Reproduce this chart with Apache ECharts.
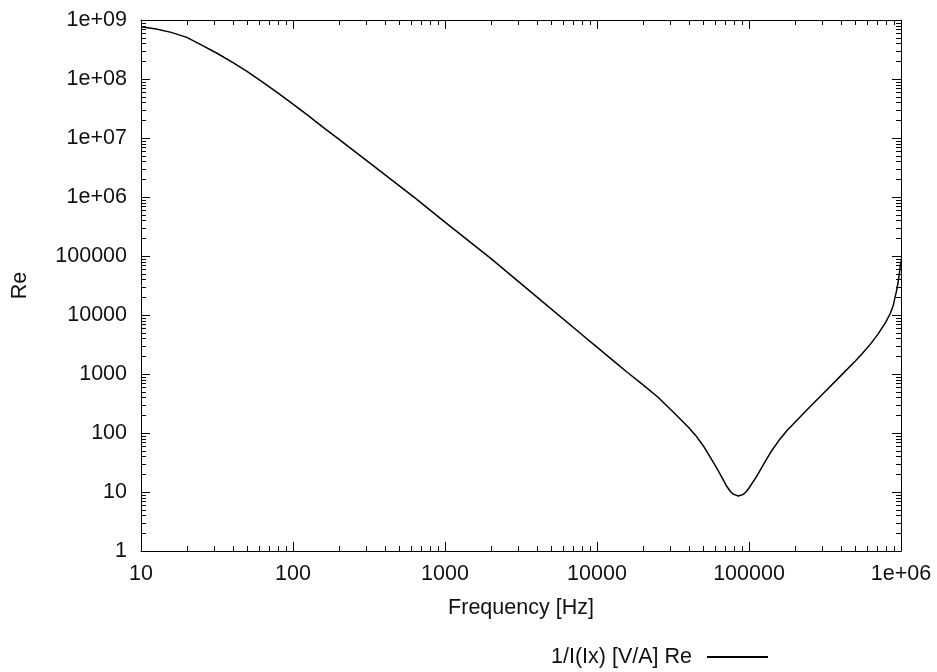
<!DOCTYPE html>
<html>
<head>
<meta charset="utf-8">
<script src="https://cdn.jsdelivr.net/npm/echarts@6/dist/echarts.min.js"></script>
<style>
html,body{margin:0;padding:0;background:#fff;}
#chart{width:937px;height:672px;}
</style>
</head>
<body>
<div id="chart"></div>
<script>
// Frequency [Hz]
var freq = [10, 12.6, 15.8, 20, 25.1, 31.6, 39.8, 50.1, 63.1, 79.4, 100, 126, 158, 200, 316, 631, 1000, 2000,
  3980, 7940, 10000, 12600, 15800, 20000, 25100, 31600, 39800, 44700, 50100, 56200, 63100, 70800, 75900,
  79400, 85100, 91200, 95500, 100000, 112000, 126000, 141000, 158000, 178000, 200000, 251000, 316000,
  398000, 501000, 562000, 631000, 708000, 794000, 851000, 891000, 912000, 933000, 955000, 977000, 1000000];
// Re of 1/I(Ix) [V/A]
var reVals = [7.69e8, 7.05e8, 6.17e8, 5.07e8, 3.76e8, 2.73e8, 1.93e8, 1.33e8, 8.87e7, 5.82e7, 3.76e7, 2.40e7,
  1.51e7, 9.55e6, 3.85e6, 9.77e5, 3.76e5, 9.12e4, 2.07e4, 4680, 2850, 1740, 1070, 661, 407, 229, 126, 90.2,
  60.3, 37.2, 22.4, 12.9, 10, 9.12, 8.55, 9.02, 10, 11.7, 18.2, 30.9, 50.1, 75.9, 110, 151, 275, 501, 912,
  1660, 2290, 3240, 4790, 7590, 10700, 14800, 19500, 25100, 34700, 52500, 83200];
var seriesName = '1/I(Ix) [V/A] Re';
var xName = 'Frequency [Hz]';
var yName = 'Re';
var xDecades = [1, 2, 3, 4, 5];      // minor ticks within these decades
var yDecades = [0, 1, 2, 3, 4, 5, 6, 7, 8];

var FONT = 'Liberation Sans, Arial, sans-serif';
var FS = 21.5;
function fmt(v) {
  var e = Math.round(Math.log10(v));
  if (e >= 6) return '1e+' + (e < 10 ? '0' : '') + e;
  return String(Math.round(v));
}
var axisLine = {show: true, lineStyle: {color: '#000', width: 1}};
var tickMajor = {show: true, inside: true, length: 9, lineStyle: {color: '#000', width: 1}};

var chart = echarts.init(document.getElementById('chart'), null, {renderer: 'canvas'});
var data = freq.map(function (f, i) { return [f, reVals[i]]; });

chart.setOption({
  animation: false,
  backgroundColor: '#fff',
  grid: {left: 141, top: 20, right: 36, bottom: 121, containLabel: false},
  legend: {
    right: 164, top: 641, align: 'right',
    itemWidth: 61, itemHeight: 2, icon: 'rect',
    textStyle: {fontFamily: FONT, fontSize: FS, color: '#111', padding: [0, 10, 0, 0]},
    data: [{name: seriesName, itemStyle: {color: '#000'}}]
  },
  xAxis: [{
    type: 'log', logBase: 10, min: 10, max: 1e6, interval: 1,
    name: xName, nameLocation: 'middle', nameGap: 46,
    nameTextStyle: {fontFamily: FONT, fontSize: FS, color: '#111'},
    axisLine: axisLine, axisTick: tickMajor, splitLine: {show: false},
    axisLabel: {fontFamily: FONT, fontSize: FS, color: '#111', margin: 12, formatter: fmt}
  }, {
    type: 'log', logBase: 10, min: 10, max: 1e6, interval: 1, position: 'top',
    axisLine: axisLine, axisTick: tickMajor, splitLine: {show: false}, axisLabel: {show: false}
  }],
  yAxis: [{
    type: 'log', logBase: 10, min: 1, max: 1e9, interval: 1,
    name: yName, nameLocation: 'middle', nameGap: 110, nameRotate: 90,
    nameTextStyle: {fontFamily: FONT, fontSize: FS, color: '#111'},
    axisLine: axisLine, axisTick: tickMajor, splitLine: {show: false},
    axisLabel: {fontFamily: FONT, fontSize: FS, color: '#111', margin: 14, formatter: fmt}
  }, {
    type: 'log', logBase: 10, min: 1, max: 1e9, interval: 1, position: 'right',
    axisLine: axisLine, axisTick: tickMajor, splitLine: {show: false}, axisLabel: {show: false}
  }],
  series: [{
    name: seriesName, type: 'line', data: data,
    xAxisIndex: 0, yAxisIndex: 0,
    showSymbol: false, smooth: false,
    lineStyle: {color: '#000', width: 1.5}, itemStyle: {color: '#000'}
  }]
});

// minor ticks on all four sides, placed through the axes' own scales
var g = [];
var x0 = chart.convertToPixel({xAxisIndex: 0}, 10);
var x1 = chart.convertToPixel({xAxisIndex: 0}, 1e6);
var y0 = chart.convertToPixel({yAxisIndex: 0}, 1);
var y1 = chart.convertToPixel({yAxisIndex: 0}, 1e9);
var ML = 5;
var ls = {stroke: '#000', lineWidth: 1};
xDecades.forEach(function (d) {
  for (var k = 2; k <= 9; k++) {
    var px = Math.round(chart.convertToPixel({xAxisIndex: 0}, k * Math.pow(10, d))) + 0.5;
    g.push({type: 'line', shape: {x1: px, y1: y0, x2: px, y2: y0 - ML}, style: ls, silent: true});
    g.push({type: 'line', shape: {x1: px, y1: y1, x2: px, y2: y1 + ML}, style: ls, silent: true});
  }
});
yDecades.forEach(function (d) {
  for (var k = 2; k <= 9; k++) {
    var py = Math.round(chart.convertToPixel({yAxisIndex: 0}, k * Math.pow(10, d))) + 0.5;
    g.push({type: 'line', shape: {x1: x0, y1: py, x2: x0 + ML, y2: py}, style: ls, silent: true});
    g.push({type: 'line', shape: {x1: x1, y1: py, x2: x1 - ML, y2: py}, style: ls, silent: true});
  }
});
chart.setOption({graphic: g});
</script>
</body>
</html>
